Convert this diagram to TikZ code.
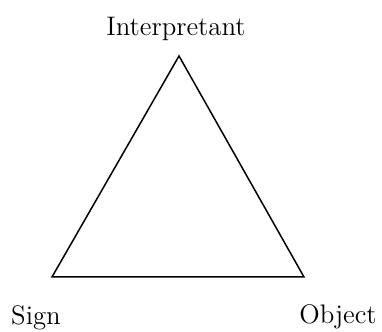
\documentclass[tikz,border=0pt]{standalone}
\usepackage{tikz}
\usetikzlibrary{positioning}

\begin{document}
\begin{tikzpicture}[x=0.5pt,y=-0.5pt,
    lbl/.style={anchor=base,inner sep=0pt,font=\fontsize{13.4}{16}\selectfont},
    edge/.style={black,line width=0.75pt,line join=miter}]
    \useasboundingbox (0,0) rectangle (382,332);
    \coordinate(top) at (179,56);
    \coordinate(sl) at (52,277);
    \coordinate(sr) at (304,277);
    \node[lbl](interp) at (176,35){Interpretant};
    \node[lbl](sign) at (36,325){Sign};
    \node[lbl](obj) at (338,324){Object};
    \draw[edge](top)--(sl)--(sr)--cycle;
  \end{tikzpicture}
\end{document}
